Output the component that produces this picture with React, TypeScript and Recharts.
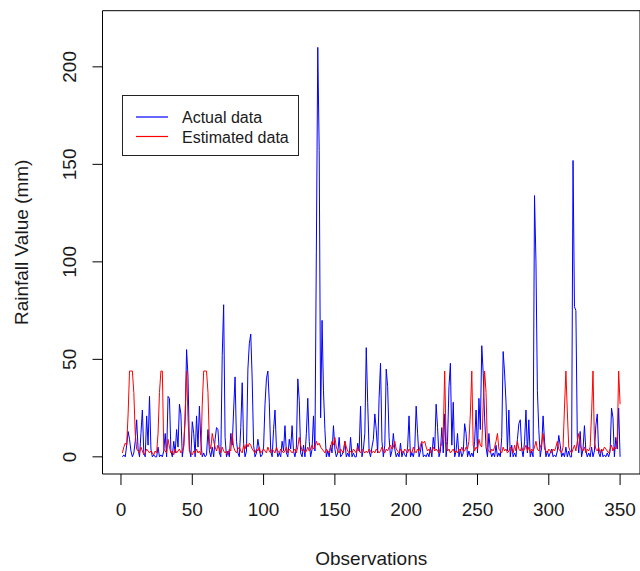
import React from 'react';
import { LineChart, Line, XAxis, YAxis, ReferenceArea } from 'recharts';

const actualData = [
  0, 1, 0, 6, 13, 9, 3, 0, 2, 8,
  19, 4, 0, 12, 24, 2, 0, 21, 6, 31,
  4, 0, 1, 0, 0, 5, 0, 1, 0, 3,
  12, 0, 31, 30, 3, 0, 8, 2, 14, 5,
  27, 22, 0, 6, 19, 55, 41, 4, 0, 18,
  12, 0, 21, 5, 26, 8, 0, 2, 0, 1,
  14, 3, 0, 5, 0, 9, 15, 14, 2, 0,
  52, 78, 10, 0, 3, 0, 12, 6, 24, 41,
  8, 2, 0, 15, 38, 7, 0, 3, 45, 58,
  63, 40, 6, 0, 2, 9, 4, 0, 1, 5,
  27, 40, 44, 28, 3, 0, 14, 24, 5, 0,
  2, 0, 8, 3, 16, 2, 0, 9, 4, 16,
  3, 0, 5, 40, 29, 2, 0, 6, 0, 12,
  30, 8, 0, 4, 21, 3, 105, 210, 157, 20,
  70, 34, 14, 0, 3, 0, 6, 2, 16, 4,
  0, 2, 10, 0, 1, 3, 8, 0, 2, 0,
  10, 0, 2, 0, 0, 7, 3, 26, 0, 4,
  12, 56, 28, 3, 0, 5, 9, 22, 14, 2,
  30, 48, 8, 0, 6, 45, 36, 10, 0, 3,
  12, 4, 0, 2, 0, 7, 0, 3, 1, 0,
  5, 21, 0, 2, 0, 4, 26, 12, 0, 3,
  7, 0, 1, 0, 2, 0, 5, 0, 10, 4,
  27, 15, 0, 3, 15, 2, 22, 0, 8, 36,
  48, 6, 28, 0, 3, 12, 0, 4, 0, 2,
  17, 12, 0, 3, 0, 2, 0, 8, 24, 2,
  30, 14, 57, 43, 20, 5, 0, 12, 3, 0,
  2, 0, 6, 0, 2, 0, 10, 54, 43, 28,
  3, 24, 0, 6, 0, 2, 0, 9, 17, 19,
  4, 0, 8, 24, 2, 19, 0, 3, 0, 134,
  100, 34, 14, 0, 5, 21, 8, 0, 3, 0,
  2, 4, 0, 1, 0, 3, 11, 6, 0, 2,
  0, 5, 0, 3, 0, 0, 152, 77, 75, 10,
  2, 13, 0, 4, 16, 3, 0, 2, 0, 5,
  0, 3, 16, 22, 2, 0, 4, 0, 1, 0,
  2, 0, 3, 25, 20, 0, 10, 4, 25, 0,
];

const estimatedData = [
  2, 5, 7, 6, 22, 44, 44, 44, 33, 12,
  4, 3, 2, 5, 3, 1, 2, 4, 3, 2,
  3, 2, 1, 3, 2, 12, 33, 44, 44, 4,
  3, 2, 9, 5, 2, 3, 1, 4, 2, 3,
  4, 2, 3, 5, 22, 44, 20, 3, 2, 1,
  3, 2, 4, 2, 3, 1, 27, 44, 44, 44,
  33, 7, 4, 12, 8, 5, 3, 6, 4, 2,
  5, 3, 2, 3, 1, 4, 3, 12, 5, 3,
  2, 4, 5, 3, 2, 6, 4, 7, 5, 7,
  6, 4, 3, 2, 4, 3, 5, 2, 3, 4,
  3, 2, 5, 3, 2, 4, 3, 2, 5, 3,
  2, 4, 3, 2, 3, 5, 2, 4, 3, 2,
  3, 4, 2, 5, 10, 6, 3, 4, 2, 3,
  5, 3, 4, 6, 4, 5, 8, 6, 7, 5,
  4, 3, 2, 4, 3, 2, 5, 8, 6, 10,
  5, 3, 2, 4, 3, 2, 8, 5, 3, 2,
  3, 2, 4, 3, 2, 5, 3, 2, 4, 3,
  2, 3, 2, 4, 3, 2, 3, 2, 4, 3,
  2, 3, 5, 3, 2, 4, 3, 5, 6, 4,
  5, 8, 4, 3, 2, 4, 3, 2, 4, 3,
  2, 4, 3, 2, 5, 3, 2, 4, 3, 6,
  8, 7, 8, 5, 3, 4, 2, 3, 5, 3,
  4, 3, 2, 5, 7, 12, 44, 8, 3, 4,
  2, 3, 4, 2, 3, 2, 4, 3, 5, 3,
  3, 5, 4, 8, 22, 44, 6, 3, 5, 4,
  9, 6, 5, 27, 44, 33, 4, 3, 2, 4,
  3, 5, 8, 12, 4, 3, 2, 5, 3, 4,
  2, 3, 5, 4, 2, 6, 3, 8, 4, 3,
  5, 3, 4, 6, 3, 5, 2, 4, 3, 5,
  8, 4, 3, 5, 7, 12, 4, 3, 2, 4,
  3, 2, 4, 3, 5, 8, 4, 3, 2, 5,
  25, 44, 23, 5, 3, 2, 4, 6, 3, 8,
  12, 6, 4, 3, 5, 2, 4, 3, 5, 22,
  44, 8, 4, 3, 5, 2, 4, 3, 5, 4,
  3, 2, 4, 6, 3, 5, 4, 8, 44, 27,
];

const xTicks = [0, 50, 100, 150, 200, 250, 300, 350];
const yTicks = [0, 50, 100, 150, 200];

const seriesInfo = [
  { key: 'actual', name: 'Actual data', color: '#0000ff' },
  { key: 'estimated', name: 'Estimated data', color: '#ff0000' },
];

// R-style 4% padding around the data range
const X_DOMAIN = [-12.96, 363.96];
const Y_DOMAIN = [-8.8, 228.8];

const FONT = '"Liberation Sans", Arial, sans-serif';
const TEXT = '#1a1a1a';

const data = actualData.map((v, i) => ({
  obs: i + 1,
  actual: v,
  estimated: estimatedData[i],
}));

const YTick = (props: any) => {
  const { x, y, payload } = props;
  const bx = x - 16;
  return (
    <text
      x={bx}
      y={y}
      transform={`rotate(-90, ${bx}, ${y})`}
      textAnchor="middle"
      fontSize={19}
      fontFamily={FONT}
      fill={TEXT}
    >
      {payload.value}
    </text>
  );
};

const XTitle = (props: any) => {
  const { viewBox } = props;
  return (
    <text
      x={viewBox.x + viewBox.width / 2}
      y={viewBox.y + 91}
      textAnchor="middle"
      fontSize={19}
      fontFamily={FONT}
      fill={TEXT}
    >
      Observations
    </text>
  );
};

const YTitle = (props: any) => {
  const { viewBox } = props;
  const cy = viewBox.y + viewBox.height / 2;
  return (
    <text
      x={28}
      y={cy}
      transform={`rotate(-90, 28, ${cy})`}
      textAnchor="middle"
      fontSize={19}
      fontFamily={FONT}
      fill={TEXT}
    >
      Rainfall Value (mm)
    </text>
  );
};

const LegendBox = () => (
  <svg
    width={178}
    height={62}
    style={{ position: 'absolute', left: 122, top: 95, overflow: 'visible' }}
  >
    <rect x={0.5} y={0.5} width={176} height={60} fill="#fff" stroke="#222" strokeWidth={1} />
    {seriesInfo.map((s, i) => (
      <g key={s.key}>
        <line x1={14} x2={46} y1={22 + i * 19.5} y2={22 + i * 19.5} stroke={s.color} strokeWidth={1.2} />
        <text x={60} y={28 + i * 19.5} fontSize={16} fontFamily={FONT} fill={TEXT}>
          {s.name}
        </text>
      </g>
    ))}
  </svg>
);

export default function App() {
  return (
    <div style={{ position: 'absolute', left: 0, top: 0, width: 640, height: 571, background: '#fff' }}>
      <LineChart width={640} height={571} data={data} margin={{ top: 10.7, right: 0, bottom: 0, left: 0 }}>
        <XAxis
          dataKey="obs"
          type="number"
          domain={X_DOMAIN}
          ticks={xTicks}
          allowDataOverflow
          height={97}
          axisLine={false}
          tickSize={11}
          tickMargin={18}
          tickLine={{ stroke: '#000' }}
          tick={{ fontSize: 19, fontFamily: FONT, fill: TEXT }}
          label={<XTitle />}
        />
        <YAxis
          type="number"
          domain={Y_DOMAIN}
          ticks={yTicks}
          allowDataOverflow
          width={102.5}
          axisLine={false}
          tickSize={10}
          tickMargin={0}
          tickLine={{ stroke: '#000' }}
          tick={<YTick />}
          label={<YTitle />}
        />
        <ReferenceArea
          x1={X_DOMAIN[0]}
          x2={X_DOMAIN[1]}
          y1={Y_DOMAIN[0]}
          y2={Y_DOMAIN[1]}
          fill="none"
          stroke="#000"
          strokeWidth={1}
          ifOverflow="visible"
        />
        {seriesInfo.map((s) => (
          <Line
            key={s.key}
            type="linear"
            dataKey={s.key}
            name={s.name}
            stroke={s.color}
            strokeWidth={1}
            dot={false}
            isAnimationActive={false}
          />
        ))}
      </LineChart>
      <LegendBox />
    </div>
  );
}
